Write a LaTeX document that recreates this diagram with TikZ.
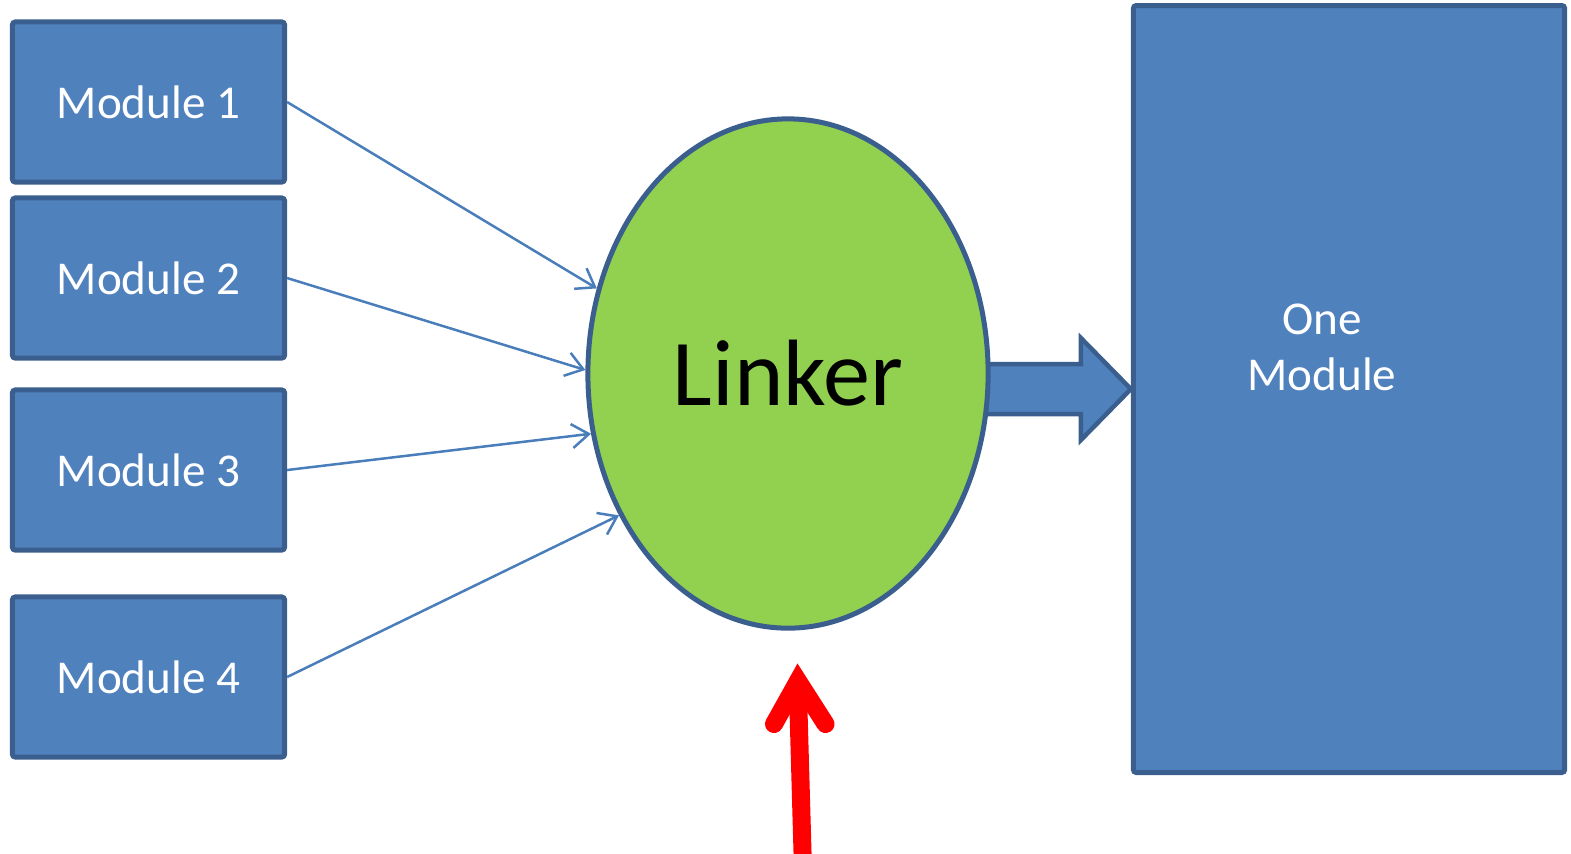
\documentclass[tikz,border=0pt]{standalone}
\usepackage{fontspec}
\setmainfont{Carlito}
\usetikzlibrary{arrows.meta,calc,shapes.geometric}
\definecolor{boxfill}{HTML}{4F81BD}
\definecolor{boxline}{HTML}{3A5F8E}
\definecolor{linkfill}{HTML}{92D050}
\definecolor{thinarrow}{HTML}{4A7EBB}
\tikzset{
  modbox/.style={draw=boxline, fill=boxfill, line width=0.05cm, rounded corners=0.8pt,
    minimum width=2.72cm, minimum height=1.60cm, inner sep=0pt, text=white,
    font=\fontsize{13.4pt}{16pt}\selectfont},
  bigbox/.style={draw=boxline, fill=boxfill, line width=0.05cm, rounded corners=0.8pt,
    minimum width=4.31cm, minimum height=7.665cm, inner sep=0pt},
  linker/.style={ellipse, draw=boxline, fill=linkfill, line width=0.05cm,
    minimum width=4.0cm, minimum height=5.09cm, inner sep=0pt, text=black,
    font=\fontsize{26.8pt}{30pt}\selectfont},
  boxtext/.style={text=white, align=center, font=\fontsize{13.4pt}{15.9pt}\selectfont, inner sep=0pt},
  thin/.style={draw=thinarrow, line width=0.025cm, -{Straight Barb[length=0.17cm, width=0.24cm]}},
  blockarrow/.style={draw=boxline, fill=boxfill, line width=0.045cm, line join=miter},
  redline/.style={draw=red, line width=0.18cm}
}
\begin{document}
\begin{tikzpicture}[x=0.01cm, y=-0.01cm]
\useasboundingbox (0,0) rectangle (1571,853);
% modules
\node[modbox] (M1) at (148.5,102) {Module 1};
\node[modbox] (M2) at (148.5,278) {Module 2};
\node[modbox] (M3) at (148.5,470) {Module 3};
\node[modbox] (M4) at (148.5,677) {Module 4};
% big box
\node[bigbox] (OM) at (1349,389) {};
\node[boxtext] (OMtext) at (1322,347) {One\\Module};
% block arrow (behind the ellipse)
\coordinate (T) at (OM.west);
\draw[blockarrow] ($(T)+(-170,-25)$) -- ($(T)+(-50,-25)$) -- ($(T)+(-50,-51)$) -- (T)
  -- ($(T)+(-50,51)$) -- ($(T)+(-50,25)$) -- ($(T)+(-170,25)$) -- cycle;
% linker
\node[linker] (L) at (788,373.5) {Linker};
% thin arrows
\draw[thin] (M1.east) -- (L.156.6);
\draw[thin] (M2.east) -- (L.179.7);
\draw[thin] (M3.east) -- (L.197.9);
\draw[thin] (M4.east) -- (L.220.8);
% red arrow
\coordinate (redtip) at (797,663);
\coordinate (redstart) at (803,870);
\draw[redline] (redstart) -- ($(redtip)+(1,30)$);
\draw[redline, line cap=round, line join=miter] ($(redtip)+(-23,61)$) -- ($(redtip)+(1,18)$) -- ($(redtip)+(28.5,61)$);
\end{tikzpicture}
\end{document}
